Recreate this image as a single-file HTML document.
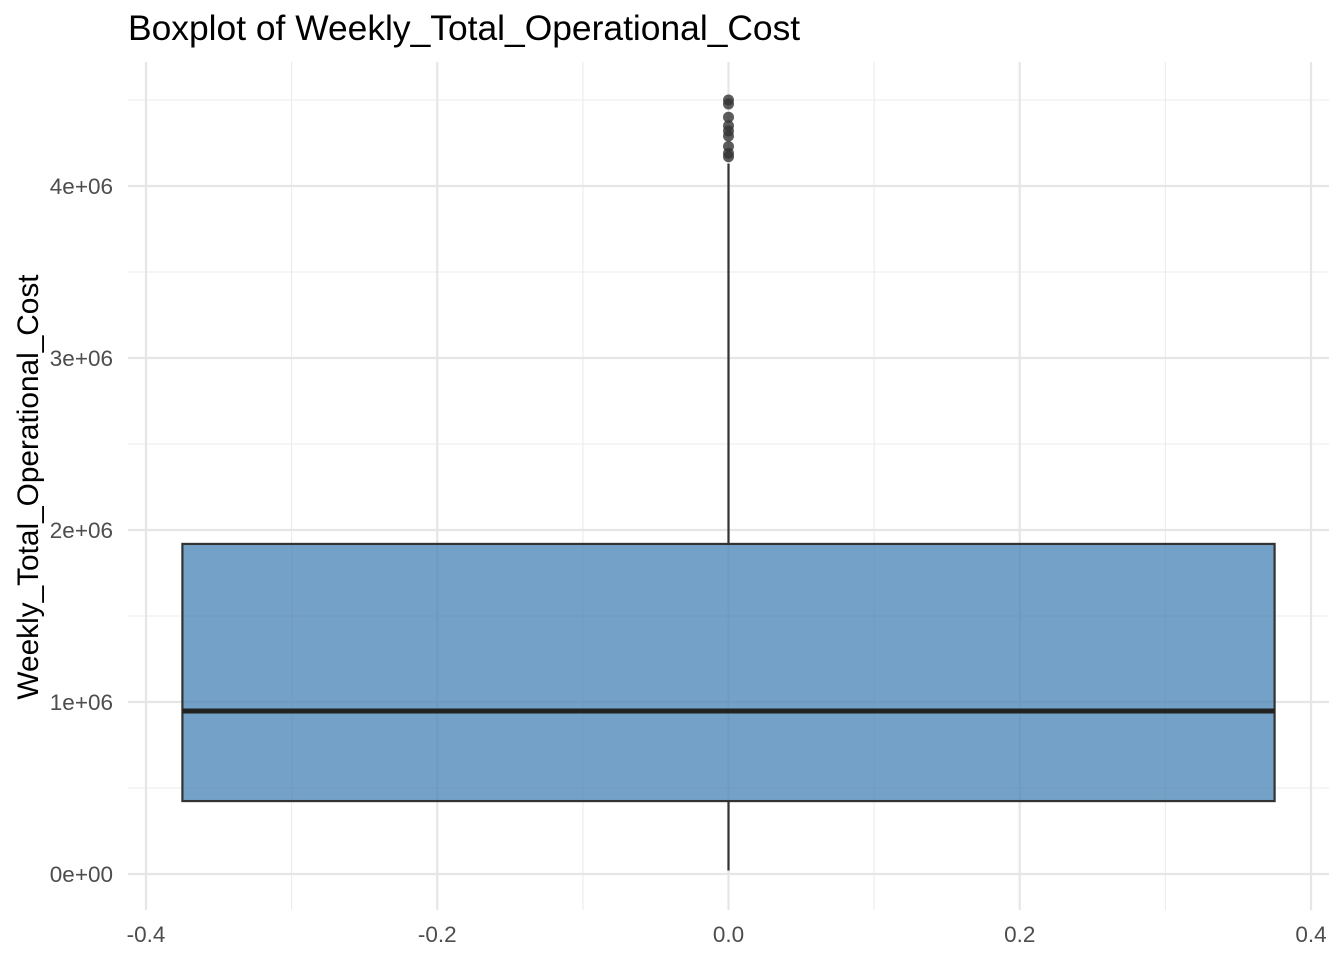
<!DOCTYPE html>
<html><head><meta charset="utf-8"><style>
html,body{margin:0;padding:0;background:#fff;}
svg{display:block;font-family:"Liberation Sans",Arial,sans-serif;}
</style></head><body>
<svg id="chart" width="1344" height="960" viewBox="0 0 1344 960">
<text x="128" y="40" font-size="35.4" fill="#000">Boxplot of Weekly_Total_Operational_Cost</text>
<text transform="translate(38,487) rotate(-90)" text-anchor="middle" font-size="29.8" fill="#000">Weekly_Total_Operational_Cost</text>
<g id="grid"></g>
<g id="axes"></g>
<g id="marks"></g>
</svg>
<script>
const xTicks = [-0.4, -0.2, 0.0, 0.2, 0.4];
const xTickLabels = ["-0.4", "-0.2", "0.0", "0.2", "0.4"];
const xMinor = [-0.3, -0.1, 0.1, 0.3];
const yTicks = [0, 1e6, 2e6, 3e6, 4e6];
const yTickLabels = ["0e+00", "1e+06", "2e+06", "3e+06", "4e+06"];
const yMinor = [0.5e6, 1.5e6, 2.5e6, 3.5e6, 4.5e6];
const boxStats = [20000, 424000, 948000, 1919000, 4130000]; // min, q1, median, q3, whisker max
const boxHalfWidth = [0.375];
const outliers = [4500000, 4477000, 4400000, 4350000, 4320000, 4290000, 4230000, 4190000, 4170000];

const NS = "http://www.w3.org/2000/svg";
const X = v => 728.5 + v * 1456.25;
const Y = v => 874 - v / 1e6 * 172;
const L = 128, R = 1329, T = 62, B = 910;
function mk(tag, attrs, parent) {
  const e = document.createElementNS(NS, tag);
  for (const k in attrs) e.setAttribute(k, attrs[k]);
  parent.appendChild(e);
  return e;
}
const grid = document.getElementById('grid');
const axes = document.getElementById('axes');
const marks = document.getElementById('marks');
yMinor.forEach(v => {
  const l = mk('line', {x1: L, x2: R, y1: Y(v), y2: Y(v), stroke: '#ebebeb', 'stroke-width': 1.1}, grid);
  
  
});
xMinor.forEach(v => {
  const l = mk('line', {x1: X(v), x2: X(v), y1: T, y2: B, stroke: '#ebebeb', 'stroke-width': 1.1}, grid);
  
  
});
yTicks.forEach((v, i) => {
  const l = mk('line', {x1: L, x2: R, y1: Y(v), y2: Y(v), stroke: '#e6e6e6', 'stroke-width': 2.2}, grid);
  
  
  const t = mk('text', {x: 113, y: Y(v) + 8, 'text-anchor': 'end', 'font-size': 22.5, fill: '#4d4d4d'}, axes);
  t.textContent = yTickLabels[i];
  
  
});
xTicks.forEach((v, i) => {
  const l = mk('line', {x1: X(v), x2: X(v), y1: T, y2: B, stroke: '#e6e6e6', 'stroke-width': 2.2}, grid);
  
  
  const t = mk('text', {x: X(v), y: 942, 'text-anchor': 'middle', 'font-size': 22.5, fill: '#4d4d4d'}, axes);
  t.textContent = xTickLabels[i];
  
  
});
const cx = X(0), hw = boxHalfWidth[0];
const wl = mk('line', {x1: cx, x2: cx, y1: Y(boxStats[0]), y2: Y(boxStats[1]), stroke: '#333', 'stroke-width': 2.2}, marks);


const wu = mk('line', {x1: cx, x2: cx, y1: Y(boxStats[3]), y2: Y(boxStats[4]), stroke: '#333', 'stroke-width': 2.2}, marks);


const box = mk('rect', {x: X(-hw), y: Y(boxStats[3]), width: X(hw) - X(-hw), height: Y(boxStats[1]) - Y(boxStats[3]), fill: '#4682b4', 'fill-opacity': 0.75, stroke: '#333', 'stroke-width': 2.2}, marks);


const med = mk('line', {x1: X(-hw), x2: X(hw), y1: Y(boxStats[2]), y2: Y(boxStats[2]), stroke: '#222', 'stroke-width': 5}, marks);


outliers.forEach(v => {
  const c = mk('circle', {cx: cx, cy: Y(v), r: 5.5, fill: '#333', 'fill-opacity': 0.8}, marks);
  
  
});
</script>
</body></html>
